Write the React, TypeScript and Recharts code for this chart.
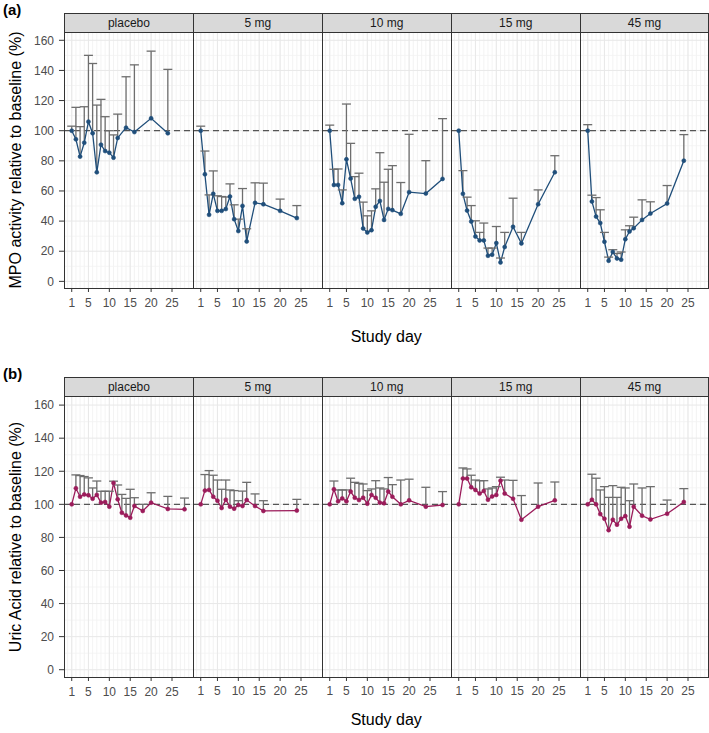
import React from 'react';
import { ComposedChart, Line, XAxis, YAxis, ErrorBar, ReferenceLine } from 'recharts';

// ---------- categories / ticks ----------
const doseLabels = ['placebo', '5 mg', '10 mg', '15 mg', '45 mg'];
const xTicks = [1, 5, 10, 15, 20, 25];
const yTicks = [0, 20, 40, 60, 80, 100, 120, 140, 160];
const yMinorTicks = [10, 30, 50, 70, 90, 110, 130, 150];
const xMinorTicks = [0, 1, 2, 3, 4, 5, 6, 7, 8, 9, 10, 11, 12, 13, 14, 15, 16, 17, 18, 19, 20, 21, 22, 23, 24, 25, 26, 27, 28, 29];

const daysShort = [1, 2, 3, 4, 5, 6, 7, 8, 9, 10, 11, 12, 14, 16, 20, 24];
const daysFull = [1, 2, 3, 4, 5, 6, 7, 8, 9, 10, 11, 12, 13, 14, 15, 16, 18, 20, 24, 28];
const days5mgUric = [1, 2, 3, 4, 5, 6, 7, 8, 9, 10, 11, 12, 14, 16, 24];

// ---------- (a) MPO activity ----------
const mpoPlaceboMean = [100, 94.3, 82.8, 92, 106, 98.3, 72.4, 90.7, 86.5, 85.4, 82.1, 95.2, 102, 99.1, 108.2, 98.3];
const mpoPlaceboUpper = [103, 115.5, 102.7, 115.9, 150, 144.6, 117, 120.8, 109.3, 100, 97.2, 111, 135.8, 143.7, 152.8, 140.7];
const mpo5Mean = [100, 71.1, 44.2, 58.1, 46.8, 46.8, 48, 56.3, 41.3, 33.4, 50.1, 26.5, 52.1, 51.2, 46.8, 42];
const mpo5Upper = [103, 86.5, 57.4, 73.3, 56.8, 56.3, 56, 64.7, 50.8, 41.3, 61.6, 34.9, 65.4, 65.2, 54.6, 50.3];
const mpo10Mean = [100, 64, 64, 51.9, 81, 68.2, 54.8, 56.1, 35.1, 32.5, 34, 49.5, 53.4, 40.8, 48.1, 47.3, 44.8, 59.2, 58.3, 68];
const mpo10Upper = [103.7, 74.4, 74.6, 60.7, 117.7, 91.6, 69.5, 71.8, 52.6, 43.5, 46.8, 61.4, 85.4, 65.8, 74.4, 76.8, 65.6, 97.6, 80.1, 108];
const mpo15Mean = [100, 58.1, 47, 39.7, 29.8, 27.2, 27.2, 17, 17.7, 25.4, 12.6, 22.8, 36.2, 25.2, 51.2, 72.4];
const mpo15Upper = [100, 73.5, 55.9, 50.3, 40.2, 32.5, 38.7, 22.1, 22.1, 36.4, 15.5, 32.5, 55.2, 32.5, 60.7, 83.4];
const mpo45Mean = [100, 53, 43, 38.7, 26.3, 13.7, 19.5, 15.2, 14.4, 28, 33.1, 35.3, 40.8, 45, 51.7, 80.1];
const mpo45Upper = [104, 57.2, 55.6, 47.5, 32.5, 16.1, 21, 18.5, 19.5, 34.2, 36.9, 42.6, 54.1, 52.8, 63.6, 97.4];

// ---------- (b) Uric acid ----------
const uaPlaceboMean = [100, 109.7, 104.6, 106, 105.5, 103.4, 105.7, 101, 101.4, 98.6, 112.9, 103, 94.9, 93.3, 91.9, 99, 96, 101, 97.2, 97];
const uaPlaceboUpper = [100, 117.8, 117.4, 116.8, 116, 109.9, 114.1, 107.9, 107.9, 107.9, 114, 111.7, 106, 103.6, 109.1, 104, 100, 107, 104.8, 103.8];
const ua5Mean = [100, 108.3, 108.7, 104.6, 102.2, 97.8, 102.8, 98.6, 97.4, 99.6, 99, 102.6, 99, 96, 96.2];
const ua5Upper = [100, 118, 120.4, 117.6, 114.7, 109.1, 114.7, 108.7, 108.3, 102.2, 108, 113.3, 106.3, 102.2, 103];
const ua10Mean = [100, 109.1, 101.8, 103.6, 101.8, 107.7, 104, 102.6, 104, 100.4, 105.7, 104, 101, 100.6, 107.7, 104.6, 100, 102.4, 98.6, 99.6];
const ua10Upper = [100, 114.1, 108.7, 108.7, 108.7, 115.8, 113.3, 112.7, 112.3, 108.3, 109.3, 114.3, 109.9, 109.3, 116.2, 111.9, 114.7, 115.2, 110.3, 107.7];
const ua15Mean = [100, 115.6, 115.6, 110.3, 108.7, 106.5, 108.1, 102.8, 104.8, 105.7, 114.3, 106.5, 103.4, 90.7, 98.6, 102.4];
const ua15Upper = [100, 122, 121.4, 117.6, 114.7, 114.3, 114.3, 109.3, 109.9, 110.7, 116.4, 114.7, 114.5, 105.3, 112.9, 113.5];
const ua45Mean = [100, 102.8, 100, 94.1, 91.3, 84.4, 90.7, 87.7, 91.3, 92.9, 86.5, 98.6, 93.1, 90.9, 94.3, 101.4];
const ua45Upper = [100, 118.2, 115.8, 108.7, 110.7, 104.2, 111.3, 104.2, 110.3, 109.9, 102.2, 112.3, 109.9, 110.7, 102.6, 109.5];

type Row = { day: number; v: number; hi: number; err: [number, number] };

function buildRows(days: number[], mean: number[], upper: number[]): Row[] {
  return days.map((d, i) => ({ day: d, v: mean[i], hi: upper[i], err: [upper[i] - mean[i], 0] }));
}

const rowA = [
  buildRows(daysShort, mpoPlaceboMean, mpoPlaceboUpper),
  buildRows(daysShort, mpo5Mean, mpo5Upper),
  buildRows(daysFull, mpo10Mean, mpo10Upper),
  buildRows(daysShort, mpo15Mean, mpo15Upper),
  buildRows(daysShort, mpo45Mean, mpo45Upper),
];
const rowB = [
  buildRows(daysFull, uaPlaceboMean, uaPlaceboUpper),
  buildRows(days5mgUric, ua5Mean, ua5Upper),
  buildRows(daysFull, ua10Mean, ua10Upper),
  buildRows(daysShort, ua15Mean, ua15Upper),
  buildRows(daysShort, ua45Mean, ua45Upper),
];

// ---------- layout ----------
const X_DOMAIN: [number, number] = [-0.85, 30];
const Y_DOMAIN: [number, number] = [-4.4, 165.5];
const PANEL_X0 = 64;
const PANEL_W = 128.9;
const STRIP_H = 19;
const XH = 30;
const YW = 44;
const BAR_COLOR = '#6e6e6e';
const FONT = '"Liberation Sans", Arial, Helvetica, sans-serif';

const renderCap = (props: any) => {
  const { cx, cy, payload, index } = props;
  if (cx == null || cy == null || !payload || payload.hi - payload.v < 0.3) {
    return <g key={`cap-${index}`} />;
  }
  return (
    <line key={`cap-${index}`} x1={cx - 4.5} x2={cx + 4.5} y1={cy} y2={cy} stroke={BAR_COLOR} strokeWidth={1.3} />
  );
};

function Panel({ rows, color, showY, left, top, height }: { rows: Row[]; color: string; showY: boolean; left: number; top: number; height: number }) {
  const yw = showY ? YW : 0;
  const w = PANEL_W + yw;
  const h = height + XH;
  return (
    <div style={{ position: 'absolute', left: left - yw, top, width: w, height: h }}>
      <ComposedChart width={w} height={h} data={rows} margin={{ top: 0, right: 0, bottom: 0, left: 0 }}>
        <XAxis
          dataKey="day"
          type="number"
          domain={X_DOMAIN}
          ticks={xTicks}
          interval={0}
          allowDataOverflow
          height={XH}
          tickSize={4}
          tickMargin={6}
          axisLine={false}
          tickLine={{ stroke: '#333333' }}
          tick={{ fontSize: 12, fill: '#4d4d4d' }}
        />
        <YAxis
          type="number"
          domain={Y_DOMAIN}
          ticks={yTicks}
          interval={0}
          allowDataOverflow
          hide={!showY}
          width={yw}
          tickSize={5}
          tickMargin={5}
          axisLine={false}
          tickLine={{ stroke: '#333333' }}
          tick={{ fontSize: 12, fill: '#4d4d4d' }}
        />
        {xMinorTicks.map((d) => (
          <ReferenceLine key={`vx${d}`} x={d} stroke="#f0f0f0" strokeWidth={0.8} />
        ))}
        {yMinorTicks.map((d) => (
          <ReferenceLine key={`hy${d}`} y={d} stroke="#f3f3f3" strokeWidth={0.8} />
        ))}
        {xTicks.map((d) => (
          <ReferenceLine key={`VX${d}`} x={d} stroke="#e8e8e8" strokeWidth={1} />
        ))}
        {yTicks.map((d) => (
          <ReferenceLine key={`HY${d}`} y={d} stroke="#e8e8e8" strokeWidth={1} />
        ))}
        <ReferenceLine y={100} stroke="#555555" strokeDasharray="6 4" strokeWidth={1.2} />
        <Line
          dataKey="hi"
          stroke="none"
          dot={renderCap}
          activeDot={false}
          isAnimationActive={false}
          legendType="none"
        >
          <ErrorBar dataKey="err" width={0} stroke={BAR_COLOR} strokeWidth={1.3} direction="y" isAnimationActive={false} />
        </Line>
        <Line
          dataKey="v"
          type="linear"
          stroke={color}
          strokeWidth={1.3}
          dot={{ r: 2, fill: color, stroke: color, strokeWidth: 0.6 }}
          activeDot={false}
          isAnimationActive={false}
        />
      </ComposedChart>
    </div>
  );
}

function FacetRow({ data, color, stripTop, panelH, yTitle, tag, titleY }: { data: Row[][]; color: string; stripTop: number; panelH: number; yTitle: string; tag: string; titleY: number }) {
  const panelTop = stripTop + STRIP_H;
  const totalW = PANEL_W * 5;
  return (
    <>
      <div style={{ position: 'absolute', left: 3, top: stripTop - 12, fontSize: 15, fontWeight: 'bold', color: '#000' }}>{tag}</div>
      {data.map((rows, i) => (
        <Panel key={i} rows={rows} color={color} showY={i === 0} left={PANEL_X0 + i * PANEL_W} top={panelTop} height={panelH} />
      ))}
      {doseLabels.map((lab, i) => (
        <div
          key={`s${i}`}
          style={{
            position: 'absolute',
            left: PANEL_X0 + i * PANEL_W,
            top: stripTop,
            width: PANEL_W + 1,
            height: STRIP_H + 1,
            boxSizing: 'border-box',
            background: '#d9d9d9',
            border: '1px solid #333333',
            fontSize: 12,
            lineHeight: `${STRIP_H - 1}px`,
            textAlign: 'center',
            color: '#1a1a1a',
          }}
        >
          {lab}
        </div>
      ))}
      {doseLabels.map((lab, i) => (
        <div
          key={`b${i}`}
          style={{
            position: 'absolute',
            left: PANEL_X0 + i * PANEL_W,
            top: panelTop,
            width: PANEL_W + 1,
            height: panelH + 1,
            boxSizing: 'border-box',
            border: '1px solid #333333',
            pointerEvents: 'none',
          }}
        />
      ))}
      <div
        style={{
          position: 'absolute',
          left: 16 - 170,
          top: panelTop + panelH / 2 - 11,
          width: 340,
          height: 22,
          lineHeight: '22px',
          textAlign: 'center',
          fontSize: 16,
          color: '#000',
          transform: 'rotate(-90deg)',
          whiteSpace: 'nowrap',
        }}
      >
        {yTitle}
      </div>
      <div
        style={{
          position: 'absolute',
          left: PANEL_X0,
          top: titleY - 11,
          width: totalW,
          height: 22,
          lineHeight: '22px',
          textAlign: 'center',
          fontSize: 16,
          color: '#000',
        }}
      >
        Study day
      </div>
    </>
  );
}

export default function App() {
  return (
    <div style={{ position: 'absolute', left: 0, top: 0, width: 709, height: 733, background: '#ffffff', fontFamily: FONT, overflow: 'hidden' }}>
      <FacetRow data={rowA} color="#1f4e7a" stripTop={13} panelH={256} yTitle="MPO activity relative to baseline (%)" tag="(a)" titleY={337} />
      <FacetRow data={rowB} color="#9b1b5a" stripTop={377} panelH={281} yTitle="Uric Acid relative to baseline (%)" tag="(b)" titleY={720} />
    </div>
  );
}
